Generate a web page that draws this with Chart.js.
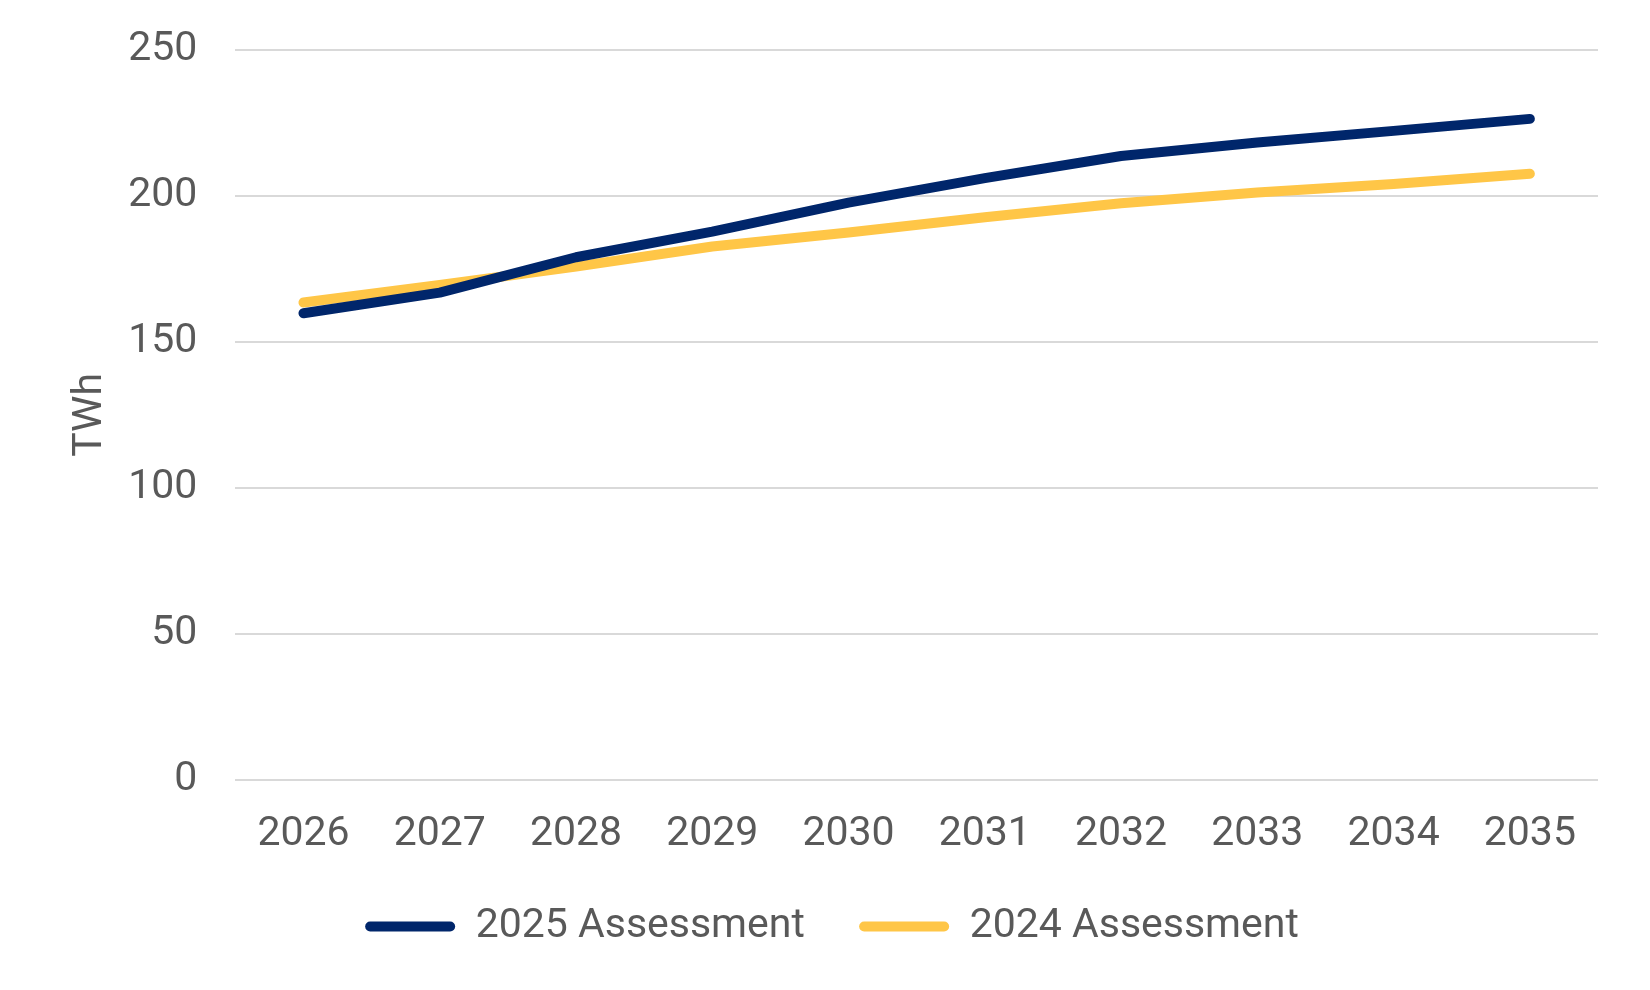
<!DOCTYPE html>
<html>
<head>
<meta charset="utf-8">
<script src="https://cdn.jsdelivr.net/npm/chart.js@4"></script>
<style>
  html, body { margin: 0; padding: 0; background: #fff; }
  canvas { display: block; }
</style>
</head>
<body>
<canvas id="twhChart" width="1650" height="990"></canvas>
<script>
const years = ['2026', '2027', '2028', '2029', '2030', '2031', '2032', '2033', '2034', '2035'];
const assessment2025 = [159.8, 166.9, 179.0, 187.8, 197.7, 206.1, 213.7, 218.3, 222.3, 226.4];
const assessment2024 = [163.5, 169.5, 175.8, 182.7, 187.5, 192.7, 197.5, 201.2, 204.1, 207.6];
const seriesNames = ['2025 Assessment', '2024 Assessment'];
const yMax = 250;
const yStep = 50;

const navy = '#00266B';
const gold = '#FFC647';
const textGrey = '#595959';
const fontSize = 41;

Chart.defaults.font.family = 'Roboto, sans-serif';
Chart.defaults.color = textGrey;

new Chart(document.getElementById('twhChart'), {
  type: 'line',
  data: {
    labels: years,
    datasets: [
      {
        label: seriesNames[0],
        data: assessment2025,
        borderColor: navy,
        backgroundColor: navy,
        borderWidth: 10,
        borderCapStyle: 'round',
        borderJoinStyle: 'round',
        pointRadius: 0,
        tension: 0
      },
      {
        label: seriesNames[1],
        data: assessment2024,
        borderColor: gold,
        backgroundColor: gold,
        borderWidth: 10,
        borderCapStyle: 'round',
        borderJoinStyle: 'round',
        pointRadius: 0,
        tension: 0
      }
    ]
  },
  options: {
    responsive: false,
    animation: false,
    layout: { padding: { left: 66, right: 52, top: 50, bottom: 33 } },
    plugins: {
      tooltip: { enabled: false },
      legend: {
        position: 'bottom',
        labels: {
          font: { size: fontSize },
          color: textGrey,
          boxWidth: 90,
          boxHeight: 10,
          useBorderRadius: true,
          borderRadius: 5,
          padding: 25,
          // a little extra space after the first entry widens the gap between the two items
          generateLabels: chart => {
            const items = Chart.defaults.plugins.legend.labels.generateLabels(chart);
            items.forEach((it, i) => {
              it.lineWidth = 0;
              if (i < items.length - 1) it.text += '\u2002\u2009';
            });
            return items;
          }
        }
      }
    },
    scales: {
      x: {
        offset: true,
        grid: { display: false },
        border: { display: false },
        ticks: { font: { size: fontSize }, color: textGrey, padding: 22, maxRotation: 0 }
      },
      y: {
        min: 0,
        max: yMax,
        grid: { color: '#D9D9D9', lineWidth: 2, drawTicks: true, tickLength: 34, tickColor: 'rgba(0,0,0,0)' },
        border: { display: false },
        ticks: { stepSize: yStep, font: { size: fontSize }, color: textGrey, padding: 4 },
        title: {
          display: true,
          text: 'TWh',
          font: { size: fontSize },
          color: textGrey,
          padding: { top: 0, bottom: 9 }
        }
      }
    }
  }
});
</script>
</body>
</html>
